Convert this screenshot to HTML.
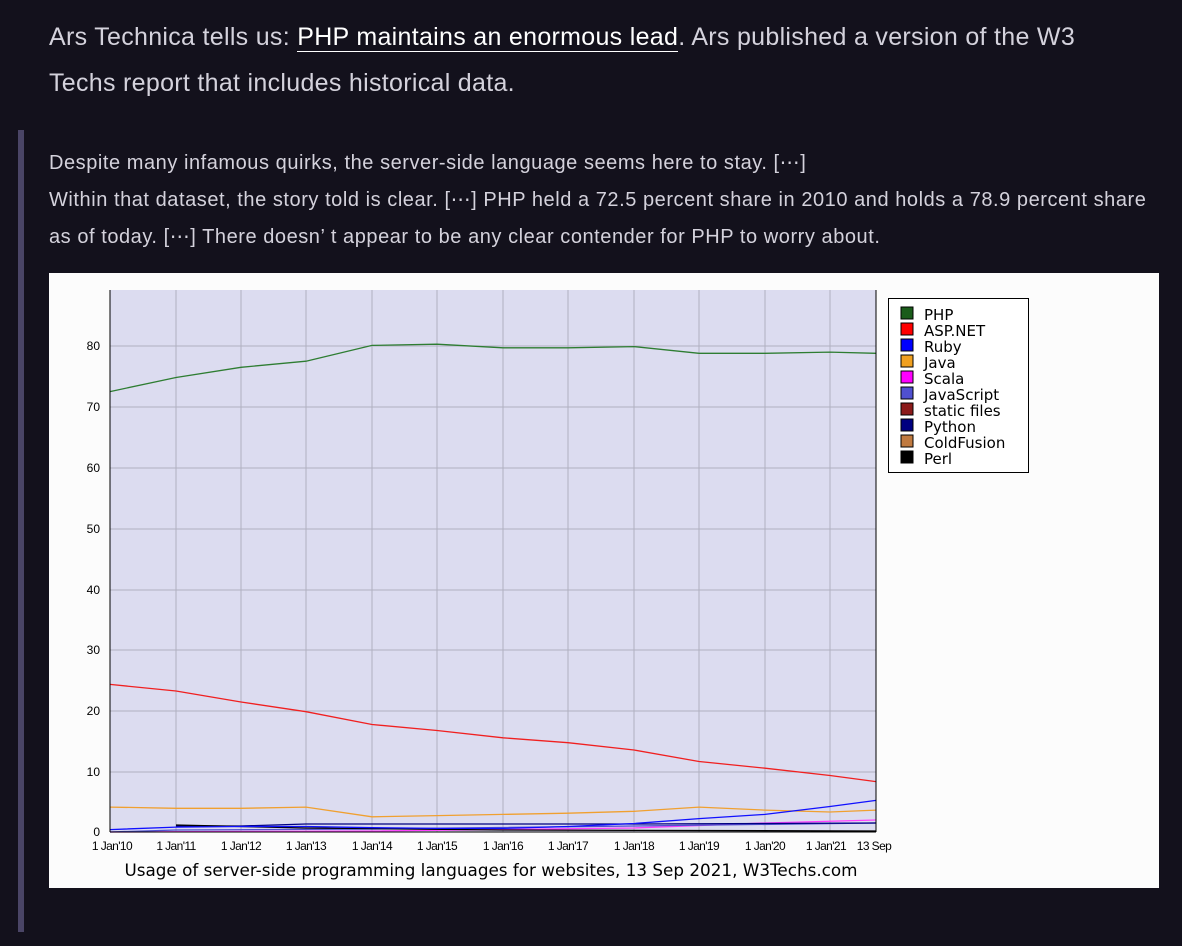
<!DOCTYPE html>
<html><head><meta charset="utf-8"><style>
body{margin:0;width:1182px;height:946px;background:#13111c;font-family:"Liberation Sans",sans-serif;color:#d8d6e0;overflow:hidden;position:relative}
.p1{position:absolute;left:49px;top:14px;font-size:25px;line-height:46px;width:1060px;color:#d4d2dc;letter-spacing:0.3px}
.p1 u{text-decoration:none;border-bottom:1.5px solid #fff;color:#fff}
.bar{position:absolute;left:18px;top:130px;width:6px;height:802px;background:#4a4566}
.p2{position:absolute;left:49px;top:145px;font-size:20px;line-height:37px;width:1112px;color:#d4d2dc;letter-spacing:0.55px}
.chart{position:absolute;left:49px;top:273px;width:1110px;height:615px;background:#fcfcfc}
</style></head><body>
<div class="p1">Ars Technica tells us: <u>PHP maintains an enormous lead</u>. Ars published a version of the W3 Techs report that includes historical data.</div>
<div class="bar"></div>
<div class="p2">Despite many infamous quirks, the server-side language seems here to stay. [⋯]<br>Within that dataset, the story told is clear. [⋯] PHP held a 72.5 percent share in 2010 and holds a 78.9 percent share as of today. [⋯] There doesn’ t appear to be any clear contender for PHP to worry about.</div>
<div class="chart"></div>
<svg style="position:absolute;left:0;top:0" width="1182" height="946" font-family="Liberation Sans, sans-serif">
<rect x="110" y="290" width="766" height="542" fill="#dcdcf0"/>
<g stroke="#b0b0c0" stroke-width="1">
<line x1="176" y1="290" x2="176" y2="832"/><line x1="241" y1="290" x2="241" y2="832"/><line x1="306" y1="290" x2="306" y2="832"/><line x1="372" y1="290" x2="372" y2="832"/><line x1="437" y1="290" x2="437" y2="832"/><line x1="503" y1="290" x2="503" y2="832"/><line x1="568" y1="290" x2="568" y2="832"/><line x1="634" y1="290" x2="634" y2="832"/><line x1="699" y1="290" x2="699" y2="832"/><line x1="765" y1="290" x2="765" y2="832"/><line x1="830" y1="290" x2="830" y2="832"/>
<line x1="110" y1="772" x2="876" y2="772"/><line x1="110" y1="711" x2="876" y2="711"/><line x1="110" y1="650" x2="876" y2="650"/><line x1="110" y1="590" x2="876" y2="590"/><line x1="110" y1="529" x2="876" y2="529"/><line x1="110" y1="468" x2="876" y2="468"/><line x1="110" y1="407" x2="876" y2="407"/><line x1="110" y1="346" x2="876" y2="346"/>
</g>
<g fill="none" stroke-width="1.3">
<polyline stroke="#2e7d32" points="110,391.6 176,377.5 241,367.3 306,361.2 372,345.4 437,344.2 503,347.8 568,347.8 634,346.6 699,353.3 765,353.3 830,352.1 876,353.3"/>
<polyline stroke="#f02020" points="110,684.4 176,691 241,702 306,711.7 372,724.5 437,730.5 503,737.8 568,742.7 634,750 699,761.5 765,768.2 830,775.5 876,781.6"/>
<polyline stroke="#f0a030" points="110,807.1 176,808.3 241,808.3 306,807.1 372,816.8 437,815.6 503,814.4 568,813.2 634,811.3 699,807.1 765,810.1 830,812 876,810.1"/>
<polyline stroke="#ff40ff" points="110,832 372,831 634,828 765,823 876,820"/>
<polyline stroke="#5050d0" points="110,832 176,830 372,829 634,826 876,823"/>
<polyline stroke="#000080" points="176,826 241,826 306,824 634,824 876,823"/>
<polyline stroke="#000" points="176,825 306,828 503,830 876,831"/>
<polyline stroke="#1010ff" points="110,829.6 176,827.1 241,826.5 306,826.5 372,827.7 437,828.4 503,828.4 568,826.5 634,823.5 699,818.6 765,814.4 830,806.5 876,800.4"/>
</g>
<line x1="110" y1="290" x2="110" y2="832" stroke="#000"/><line x1="876" y1="290" x2="876" y2="832" stroke="#000"/><line x1="110" y1="832" x2="876" y2="832" stroke="#000"/>
<g font-size="12" text-anchor="end" fill="#000">
<text x="100" y="836">0</text><text x="100" y="776">10</text><text x="100" y="715">20</text><text x="100" y="654">30</text><text x="100" y="594">40</text><text x="100" y="533">50</text><text x="100" y="472">60</text><text x="100" y="411">70</text><text x="100" y="350">80</text>
</g>
<g font-size="12" text-anchor="middle" fill="#000" letter-spacing="-0.6">
<text x="112" y="850">1 Jan'10</text><text x="176" y="850">1 Jan'11</text><text x="241" y="850">1 Jan'12</text><text x="306" y="850">1 Jan'13</text><text x="372" y="850">1 Jan'14</text><text x="437" y="850">1 Jan'15</text><text x="503" y="850">1 Jan'16</text><text x="568" y="850">1 Jan'17</text><text x="634" y="850">1 Jan'18</text><text x="699" y="850">1 Jan'19</text><text x="765" y="850">1 Jan'20</text><text x="826" y="850">1 Jan'21</text><text x="874" y="850">13 Sep</text>
</g>
<text x="491" y="876" font-size="16.8" text-anchor="middle" fill="#000" font-family="DejaVu Sans, sans-serif">Usage of server-side programming languages for websites, 13 Sep 2021, W3Techs.com</text>
<rect x="888.5" y="298.5" width="140" height="174" fill="#fff" stroke="#000"/>
<g font-size="15" fill="#000" font-family="DejaVu Sans, sans-serif" stroke="#000" stroke-width="1">
<rect x="901" y="307" width="12" height="12" fill="#1a5c1a"/><text x="924" y="320" stroke="none">PHP</text>
<rect x="901" y="323" width="12" height="12" fill="#ff0000"/><text x="924" y="336" stroke="none">ASP.NET</text>
<rect x="901" y="339" width="12" height="12" fill="#0000ff"/><text x="924" y="352" stroke="none">Ruby</text>
<rect x="901" y="355" width="12" height="12" fill="#f0a020"/><text x="924" y="368" stroke="none">Java</text>
<rect x="901" y="371" width="12" height="12" fill="#ff00ff"/><text x="924" y="384" stroke="none">Scala</text>
<rect x="901" y="387" width="12" height="12" fill="#5050d0"/><text x="924" y="400" stroke="none">JavaScript</text>
<rect x="901" y="403" width="12" height="12" fill="#8b1a1a"/><text x="924" y="416" stroke="none">static files</text>
<rect x="901" y="419" width="12" height="12" fill="#000080"/><text x="924" y="432" stroke="none">Python</text>
<rect x="901" y="435" width="12" height="12" fill="#c07a40"/><text x="924" y="448" stroke="none">ColdFusion</text>
<rect x="901" y="451" width="12" height="12" fill="#000"/><text x="924" y="464" stroke="none">Perl</text>
</g>
</svg>
</body></html>
